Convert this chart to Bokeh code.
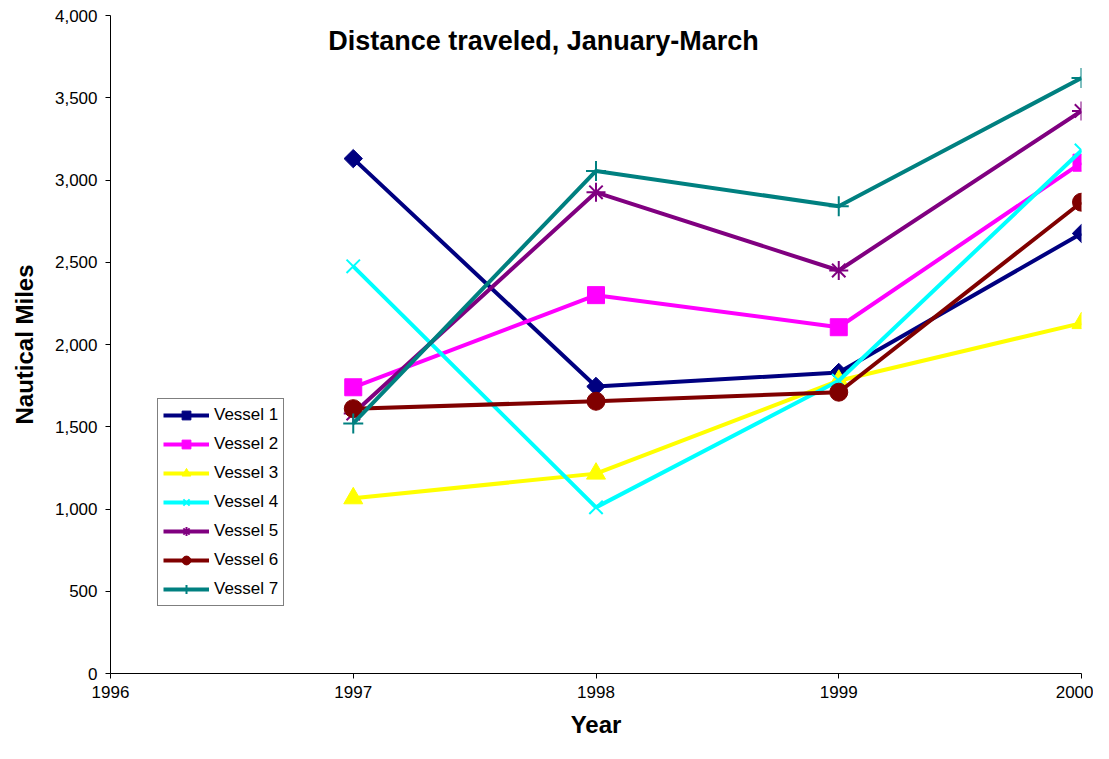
import math
from bokeh.plotting import figure
from bokeh.models import Legend, LegendItem, Label, NumeralTickFormatter, FixedTicker, Range1d
from bokeh.embed import file_html
from bokeh.resources import INLINE

years = [1997, 1998, 1999, 2000]
vessel1 = [3130, 1745, 1830, 2675]
vessel2 = [1740, 2300, 2105, 3105]
vessel3 = [1065, 1215, 1780, 2130]
vessel4 = [2475, 1010, 1780, 3180]
vessel5 = [1580, 2925, 2450, 3420]
vessel6 = [1610, 1655, 1710, 2865]
vessel7 = [1520, 3055, 2840, 3620]
names = ["Vessel 1", "Vessel 2", "Vessel 3", "Vessel 4", "Vessel 5", "Vessel 6", "Vessel 7"]
series = [vessel1, vessel2, vessel3, vessel4, vessel5, vessel6, vessel7]
colors = ["#000080", "#FF00FF", "#FFFF00", "#00FFFF", "#800080", "#800000", "#008080"]
markers = ["square", "square", "triangle", "x", "asterisk", "circle", "cross"]
angles = [math.pi / 4, 0, 0, 0, 0, 0, 0]
sizes = [13, 17, 19, 19, 19, 18, 20]
x_ticks = [1996, 1997, 1998, 1999, 2000]
y_ticks = [0, 500, 1000, 1500, 2000, 2500, 3000, 3500, 4000]

FONT = "Liberation Sans"

p = figure(width=1093, height=743, output_backend="svg", toolbar_location=None,
           x_range=Range1d(1996, 2000), y_range=Range1d(0, 4000),
           min_border_left=110, min_border_right=12, min_border_top=15, min_border_bottom=70)
p.outline_line_color = None
p.xgrid.grid_line_color = None
p.ygrid.grid_line_color = None

items = []
for name, ys, c, m, a, s in zip(names, series, colors, markers, angles, sizes):
    r1 = p.line(years, ys, line_color=c, line_width=4)
    lw = 2 if m in ("x", "asterisk", "cross") else 1
    r2 = p.scatter(years, ys, marker=m, size=s, angle=a, fill_color=c, line_color=c, line_width=lw)
    items.append(LegendItem(label=name, renderers=[r1, r2]))

legend = Legend(items=items, location=(47, 67))
legend.label_text_font = FONT
legend.label_text_font_size = "17px"
legend.label_text_color = "black"
legend.border_line_color = "black"
legend.border_line_width = 1
legend.background_fill_alpha = 1
legend.glyph_width = 46
legend.glyph_height = 22
legend.label_height = 22
legend.spacing = 7
legend.padding = 5
legend.margin = 0
legend.label_standoff = 5
p.add_layout(legend, "center")

for ax in (p.xaxis[0], p.yaxis[0]):
    ax.axis_line_color = "black"
    ax.major_tick_line_color = "black"
    ax.minor_tick_line_color = None
    ax.major_tick_in = 0
    ax.major_tick_out = 5
    ax.major_label_text_font = FONT
    ax.major_label_text_font_size = "17px"
    ax.major_label_text_color = "black"
    ax.axis_label_text_font = FONT
    ax.axis_label_text_font_style = "bold"
    ax.axis_label_text_font_size = "24px"
    ax.axis_label_text_color = "black"

p.xaxis.ticker = FixedTicker(ticks=x_ticks)
p.yaxis.ticker = FixedTicker(ticks=y_ticks)
p.yaxis.formatter = NumeralTickFormatter(format="0,0")
p.yaxis.axis_label = "Nautical Miles"
p.xaxis.axis_label = "Year"
p.xaxis.major_label_standoff = 7
p.xaxis.axis_label_standoff = 10
p.yaxis.major_label_standoff = 8
p.yaxis.axis_label_standoff = 14

title = Label(x=433, y=633, x_units="screen", y_units="screen",
              text="Distance traveled, January-March", text_font=FONT,
              text_font_style="bold", text_font_size="27px", text_align="center",
              text_baseline="middle", text_color="black")
p.add_layout(title)

open("out.html", "w").write(file_html(p, INLINE))
